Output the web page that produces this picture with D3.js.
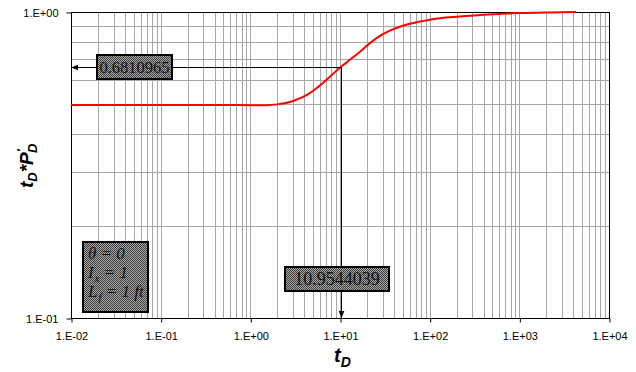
<!DOCTYPE html>
<html>
<head>
<meta charset="utf-8">
<script src="https://cdn.jsdelivr.net/npm/d3@7"></script>
<style>
  body { margin: 0; background: #fff; }
  svg { display: block; }
</style>
</head>
<body>
<div id="viz"></div>
<script>
// derivative curve
var tD = [0.01, 0.1, 0.5, 1.0, 1.5, 2.0, 2.76, 3.5, 4.28, 5.97, 7.5, 10.2, 13, 16.7, 21, 27.9, 35, 46.5, 60, 77.8, 100, 130, 217, 363, 607, 1014, 2188, 4300];
var tdPd = [0.497, 0.497, 0.497, 0.496, 0.496, 0.499, 0.508, 0.521, 0.536, 0.575, 0.610, 0.661, 0.699, 0.742, 0.786, 0.835, 0.866, 0.895, 0.915, 0.931, 0.943, 0.954, 0.966, 0.978, 0.986, 0.992, 0.997, 1.0];

// axis ticks and labels
var xTicks = [0.01, 0.1, 1, 10, 100, 1000, 10000];
var xTickLabels = ['1.E-02', '1.E-01', '1.E+00', '1.E+01', '1.E+02', '1.E+03', '1.E+04'];
var yTicks = [0.1, 1];
var yTickLabels = ['1.E-01', '1.E+00'];

// annotation: where the arrows meet (as drawn) and the boxed values
var markPoint = [10.2, 0.66];
var markLabels = ['0.6810965', '10.9544039'];
var paramLines = [['θ = 0'], ['I', 'x', ' = 1'], ['L', 'f', ' = 1 ft']];

var width = 636, height = 372;
var plotL = 71, plotR = 609, plotT = 12, plotB = 318;

var svg = d3.select('#viz').append('svg')
  .attr('width', width)
  .attr('height', height);

var x = d3.scaleLog().domain([0.01, 10000]).range([plotL, plotR]);
var y = d3.scaleLog().domain([0.1, 1]).range([plotB, plotT]);

// hatch pattern for the label boxes
var defs = svg.append('defs');
var pat = defs.append('pattern')
  .attr('id', 'checker')
  .attr('width', 2).attr('height', 2)
  .attr('patternUnits', 'userSpaceOnUse');
pat.append('rect').attr('width', 2).attr('height', 2).attr('fill', '#a8a8a8');
pat.append('rect').attr('width', 1).attr('height', 1).attr('fill', '#3c3c3c');
pat.append('rect').attr('x', 1).attr('y', 1).attr('width', 1).attr('height', 1).attr('fill', '#3c3c3c');

defs.append('marker')
  .attr('id', 'arrow')
  .attr('viewBox', '0 0 10 10')
  .attr('refX', 10).attr('refY', 5)
  .attr('markerWidth', 7).attr('markerHeight', 7)
  .attr('markerUnits', 'userSpaceOnUse')
  .attr('orient', 'auto')
  .append('path')
  .attr('d', 'M0,1 L10,5 L0,9 Z')
  .attr('fill', '#000');

// gridlines: every 1..9 per decade
var gridX = [];
for (var e = -2; e < 4; e++) {
  for (var k = 1; k < 10; k++) gridX.push(k * Math.pow(10, e));
}
var gridY = d3.range(1, 10).map(function (k) { return k / 10; });

var grid = svg.append('g').attr('stroke', '#a6a6a6').attr('stroke-width', 1);
grid.selectAll('.gx').data(gridX).enter().append('line')
  .attr('x1', function (d) { return Math.round(x(d)) + 0.5; })
  .attr('x2', function (d) { return Math.round(x(d)) + 0.5; })
  .attr('y1', plotT).attr('y2', plotB);
grid.selectAll('.gy').data(gridY).enter().append('line')
  .attr('y1', function (d) { return Math.round(y(d)) + 0.5; })
  .attr('y2', function (d) { return Math.round(y(d)) + 0.5; })
  .attr('x1', plotL).attr('x2', plotR);

// frame
svg.append('rect')
  .attr('x', plotL + 0.5).attr('y', plotT + 0.5)
  .attr('width', plotR - plotL).attr('height', plotB - plotT)
  .attr('fill', 'none').attr('stroke', '#000').attr('stroke-width', 1);

// axes
var xAxis = svg.append('g')
  .attr('transform', 'translate(0.5,' + (plotB + 0.5) + ')')
  .call(d3.axisBottom(x).tickValues(xTicks).tickSize(4).tickPadding(10)
    .tickFormat(function (d, i) { return xTickLabels[i]; }));
var yAxis = svg.append('g')
  .attr('transform', 'translate(' + (plotL + 0.5) + ',0.5)')
  .call(d3.axisLeft(y).tickValues(yTicks).tickSize(5).tickPadding(8)
    .tickFormat(function (d, i) { return yTickLabels[i]; }));
[xAxis, yAxis].forEach(function (a) {
  a.select('.domain').remove();
  a.selectAll('line').attr('stroke', '#000');
  a.selectAll('text')
    .attr('fill', '#000')
    .style('font-family', '"Liberation Sans", Arial, sans-serif')
    .style('font-size', '11px');
});

// the curve
var line = d3.line()
  .x(function (d) { return x(d[0]); })
  .y(function (d) { return y(d[1]); })
  .curve(d3.curveMonotoneX);
svg.append('path')
  .datum(tD.map(function (d, i) { return [d, tdPd[i]]; }))
  .attr('d', line)
  .attr('fill', 'none')
  .attr('stroke', '#ff0000')
  .attr('stroke-width', 2);

// arrows from the marked point to the axes
var mx = Math.round(x(markPoint[0])) + 0.5, my = Math.round(y(markPoint[1])) + 0.5;
svg.append('line')
  .attr('x1', mx).attr('y1', my).attr('x2', plotL).attr('y2', my)
  .attr('stroke', '#000').attr('stroke-width', 1)
  .attr('marker-end', 'url(#arrow)');
svg.append('line')
  .attr('x1', mx).attr('y1', my).attr('x2', mx).attr('y2', plotB)
  .attr('stroke', '#000').attr('stroke-width', 1)
  .attr('marker-end', 'url(#arrow)');

// boxed value labels
function valueBox(bx, by, bw, bh, txt, fs) {
  svg.append('rect')
    .attr('x', bx).attr('y', by).attr('width', bw).attr('height', bh)
    .attr('fill', 'url(#checker)').attr('stroke', '#000').attr('stroke-width', 2);
  svg.append('text')
    .attr('x', bx + bw / 2).attr('y', by + bh / 2 + fs * 0.35)
    .attr('text-anchor', 'middle')
    .style('font-family', '"Liberation Serif", "Times New Roman", serif')
    .style('font-size', fs + 'px')
    .attr('fill', '#111')
    .text(txt);
}
valueBox(97, 55, 75, 24, markLabels[0], 16.5);
valueBox(285, 267, 104, 24, markLabels[1], 18);

// parameter box
svg.append('rect')
  .attr('x', 83).attr('y', 242).attr('width', 65).attr('height', 70)
  .attr('fill', 'url(#checker)').attr('stroke', '#000').attr('stroke-width', 2);
var params = svg.append('g')
  .style('font-family', '"Liberation Serif", "Times New Roman", serif')
  .style('font-style', 'italic')
  .style('font-size', '17px')
  .attr('fill', '#111');
paramLines.forEach(function (p, i) {
  var t = params.append('text').attr('x', 88).attr('y', 259 + i * 19);
  t.append('tspan').text(p[0]);
  if (p.length > 2) {
    t.append('tspan').attr('dy', 4).attr('dx', 1).style('font-size', '11px').text(p[1]);
    t.append('tspan').attr('dy', -4).text(p[2]);
  }
});

// axis titles
var titleFont = '"Liberation Sans", Arial, sans-serif';
var xt = svg.append('text')
  .attr('x', 334).attr('y', 362)
  .style('font-family', titleFont)
  .style('font-style', 'italic')
  .style('font-weight', 'bold')
  .style('font-size', '20px');
xt.append('tspan').text('t');
xt.append('tspan').attr('dy', 5).style('font-size', '14px').text('D');

var yt = svg.append('text')
  .attr('transform', 'translate(33,188) rotate(-90)')
  .style('font-family', titleFont)
  .style('font-style', 'italic')
  .style('font-weight', 'bold')
  .style('font-size', '19px');
yt.append('tspan').text('t');
yt.append('tspan').attr('dy', 4).style('font-size', '13px').text('D');
yt.append('tspan').attr('dy', -4).text('*P');
yt.append('tspan').attr('dy', -7).style('font-size', '13px').text('\u2032');
yt.append('tspan').attr('dx', -4).attr('dy', 11).style('font-size', '13px').text('D');
</script>
</body>
</html>
